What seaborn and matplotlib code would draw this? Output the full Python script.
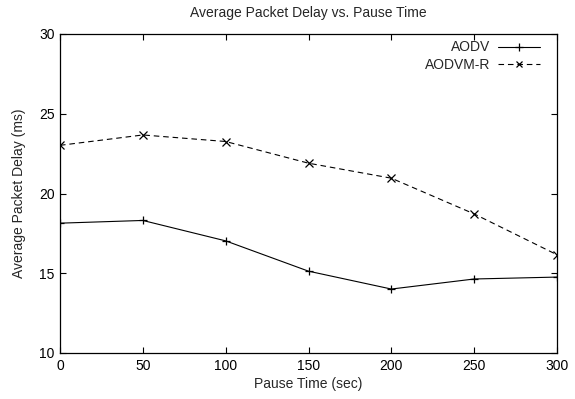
import matplotlib
matplotlib.use("Agg")
import matplotlib.pyplot as plt
from matplotlib.lines import Line2D
import seaborn as sns
import pandas as pd

pause_time = [0, 50, 100, 150, 200, 250, 300]
aodv = [18.14, 18.31, 17.03, 15.13, 14.01, 14.64, 14.76]
aodvm_r = [23.02, 23.67, 23.26, 21.90, 20.96, 18.72, 16.16]
series_names = ["AODV", "AODVM-R"]

df = pd.DataFrame({
    "Pause Time (sec)": pause_time * 2,
    "Average Packet Delay (ms)": aodv + aodvm_r,
    "Protocol": [series_names[0]] * len(pause_time) + [series_names[1]] * len(pause_time),
})

sns.set_style("ticks")
plt.rcParams["font.family"] = ["Liberation Sans", "DejaVu Sans"]
fs = 10
plt.rcParams["font.size"] = fs

fig = plt.figure(figsize=(5.75, 3.99), dpi=100)
ax = fig.add_axes([60 / 575, 1 - 353 / 399, 497 / 575, 319 / 399])

marker_map = {"AODV": "+", "AODVM-R": "x"}
dash_map = {"AODV": "", "AODVM-R": (5, 3.5)}

sns.lineplot(
    data=df, x="Pause Time (sec)", y="Average Packet Delay (ms)",
    hue="Protocol", style="Protocol",
    palette=["black", "black"],
    markers=marker_map, dashes=dash_map,
    linewidth=0.8, markersize=6, markeredgewidth=0.9,
    markeredgecolor="black",
    ax=ax, legend=False,
)

ax.set_xlim(0, 300)
ax.set_ylim(10, 30)
ax.set_xticks(range(0, 301, 50))
ax.set_yticks(range(10, 31, 5))
ax.tick_params(direction="in", length=4.5, width=0.8, top=True, right=True,
               labelsize=fs, colors="black", pad=4)
for sp in ax.spines.values():
    sp.set_visible(True)
    sp.set_linewidth(0.9)
    sp.set_color("black")

ax.set_title("Average Packet Delay vs. Pause Time", fontsize=fs, pad=12)
ax.set_xlabel("Pause Time (sec)", fontsize=fs, labelpad=3)
ax.set_ylabel("Average Packet Delay (ms)", fontsize=fs, labelpad=9)

handles = [
    Line2D([], [], color="black", lw=0.8, marker="+", ms=6, mew=0.9),
    Line2D([], [], color="black", lw=0.8, ls=(0, (5, 3.5)), marker="x", ms=5, mew=0.9),
]
ax.legend(handles, series_names, loc="upper right", bbox_to_anchor=(0.966, 0.980),
          frameon=False, markerfirst=False, handlelength=3.0, handletextpad=0.6,
          fontsize=fs, borderpad=0, borderaxespad=0, labelspacing=0.25, numpoints=1)

fig.savefig("out.png", dpi=100)
